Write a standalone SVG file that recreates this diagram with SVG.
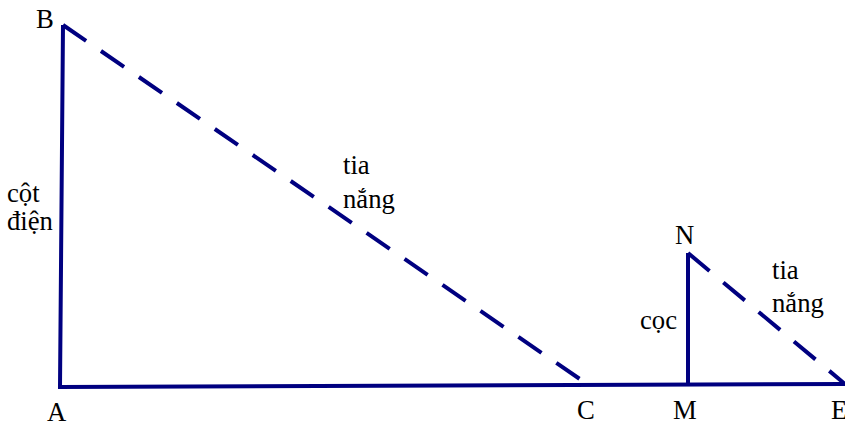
<svg xmlns="http://www.w3.org/2000/svg" width="845" height="427" viewBox="0 0 845 427">
<style>
.ln{stroke:#000080;stroke-width:4;fill:none;stroke-linecap:butt}
.ds{stroke:#000080;stroke-width:4;fill:none;stroke-dasharray:28 18}
.t{font-family:'Liberation Serif','DejaVu Serif',serif;font-size:26.7px;fill:#000}
</style>
<rect width="845" height="427" fill="#fff"/>
<g id="connectors">
<polyline class="ln" points="63,25 60,387 845,384"/>
<line class="ds" x1="63" y1="25" x2="590" y2="386"/>
<line class="ln" x1="688" y1="253" x2="688" y2="386"/>
<line class="ds" x1="688" y1="253" x2="845" y2="384"/>
</g>
<g id="labels" class="t">
<text x="36" y="28">B</text>
<text x="7" y="202">cột</text>
<text x="7" y="230">điện</text>
<text x="47" y="421">A</text>
<text x="343" y="174">tia</text>
<text x="343" y="208">nắng</text>
<text x="577" y="419">C</text>
<text x="673" y="419">M</text>
<text x="831" y="419">E</text>
<text x="675" y="244">N</text>
<text x="640" y="329">cọc</text>
<text x="772" y="279">tia</text>
<text x="772" y="312">nắng</text>
</g>
</svg>
